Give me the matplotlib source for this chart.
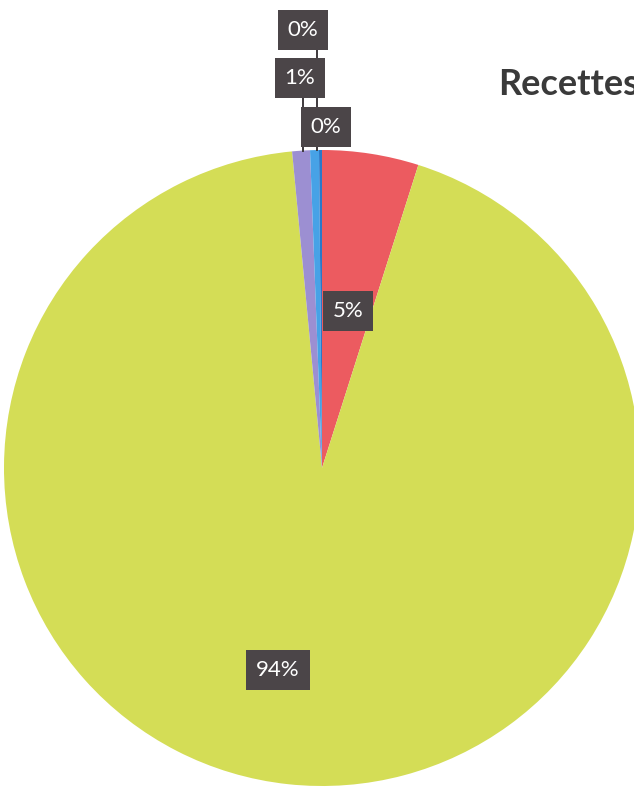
import matplotlib
matplotlib.use("Agg")
from matplotlib import pyplot as plt
import numpy as np

W, H = 634, 787          # canvas in pixels (dpi 100)

# slice shares in %, clockwise from 12 o'clock
shares = [4.9, 93.6, 0.9, 0.45, 0.15]
colors = ["#ec5b60", "#d4dd56", "#9c8fd2", "#47a2e6", "#2a78c8"]
title = "Recettes"

# layout (pixel coords, y down)
center_px = (322, 468)
radius_px = 318
label_xy = [(348, 311), (278, 670), (300, 78), (303, 30), (326, 127)]
leader_x = [None, None, 303, 317, None]

fig = plt.figure(figsize=(W / 100, H / 100), dpi=100)
ax = fig.add_axes([0, 0, 1, 1])

cx, cy = center_px[0], H - center_px[1]
ax.pie(shares, colors=colors, startangle=90, counterclock=False,
       center=(cx, cy), radius=radius_px, frame=True,
       wedgeprops=dict(linewidth=0))
ax.set_xlim(0, W); ax.set_ylim(0, H)
ax.set_aspect("equal"); ax.axis("off")

box = dict(boxstyle="square,pad=0.45", fc="#4b4548", ec="none")
for s, (lx, ly), lxl in zip(shares, label_xy, leader_x):
    y = H - ly
    if lxl is not None:
        ytop = cy + np.sqrt(radius_px ** 2 - (lxl - cx) ** 2)
        ax.plot([lxl, lxl], [y - 15, ytop], color="#3e393c", lw=1.4, zorder=3)
    ax.text(lx, y, f"{round(s)}%", ha="center", va="center", color="white",
            fontsize=16, family=["Lato", "DejaVu Sans"], bbox=box, zorder=4)

# title is cut by the right edge, as in the scan
ax.text(498, H - 95, title, ha="left", va="baseline", color="#3a3a3a",
        fontsize=26, fontweight="bold", family=["Lato", "DejaVu Sans"])

fig.savefig("out.png", dpi=100, facecolor="white")
